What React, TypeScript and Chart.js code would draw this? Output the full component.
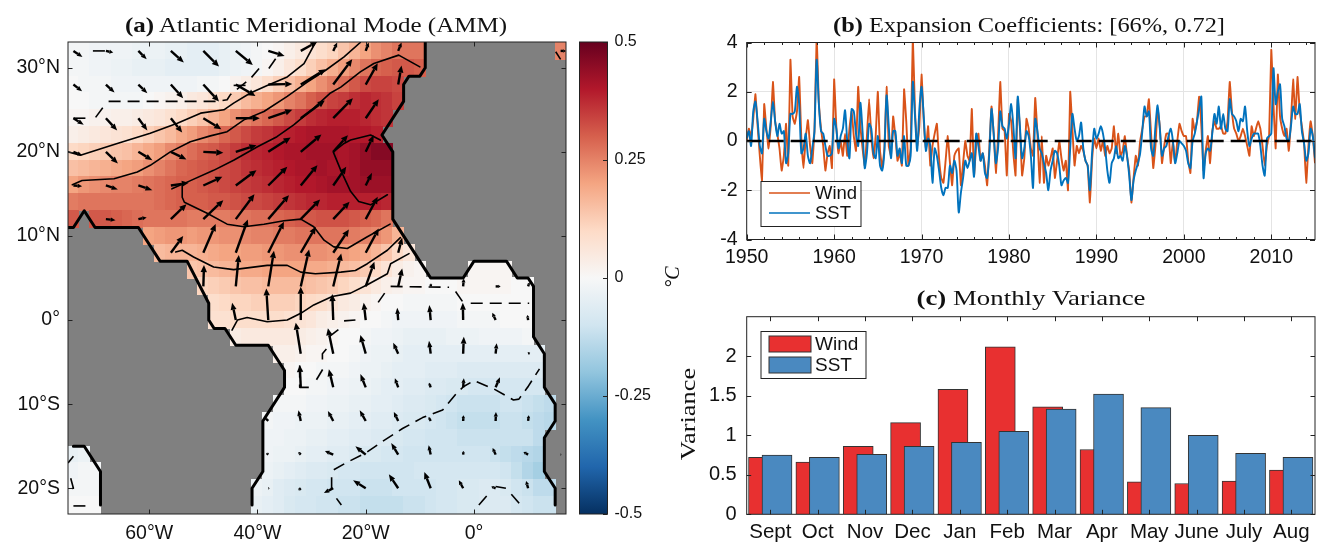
import React, { useEffect, useRef } from "react";
import { Chart, registerables } from "chart.js";

Chart.register(...registerables);

const W = 1319;
const H = 544;
const SANS = '"Liberation Sans", Arial, sans-serif';
const SERIF = '"Liberation Serif", serif';

/* ---------- panel (a): SST anomaly by latitude row: [lat, first lon, values every 2 degrees] ---------- */
const sst32 = [-.01,-.01,-.02,-.02,-.02,-.02,-.03,-.03,-.03,-.04,-.04,-.05,-.05,-.05,-.04,-.03,-.02,-.01,0,.01,.03,.05,.07,.09,.11,.14,.17,.2,.23,.25,.27,.27,.27];
const sst32e = [.25];
const sst30 = [-.01,-.01,-.02,-.02,-.03,-.03,-.04,-.04,-.04,-.05,-.05,-.05,-.05,-.05,-.04,-.03,-.02,-.01,.01,.03,.06,.09,.12,.15,.18,.21,.24,.27,.29,.3,.31,.31,.3];
const sst28 = [0,-.01,-.01,-.01,-.02,-.02,-.02,-.02,-.02,-.02,-.02,-.02,-.01,-.01,0,.02,.04,.06,.09,.12,.15,.18,.2,.23,.26,.28,.31,.33,.34,.34,.33];
const sst26 = [0,0,-.01,-.01,-.01,-.01,-.01,0,.01,.02,.03,.05,.06,.08,.1,.13,.16,.18,.2,.22,.25,.27,.3,.32,.34,.35,.37,.38,.37,.36,.34];
const sst24 = [.01,.01,.02,.02,.03,.03,.04,.05,.06,.08,.1,.12,.14,.17,.2,.23,.25,.27,.29,.31,.33,.35,.37,.38,.39,.39,.39,.38,.37,.36];
const sst22 = [.03,.04,.05,.06,.07,.08,.1,.12,.14,.16,.19,.21,.24,.26,.29,.31,.33,.35,.36,.38,.39,.4,.41,.41,.41,.41,.4,.4,.39];
const sst20 = [.1,.11,.12,.13,.14,.15,.17,.19,.21,.24,.26,.28,.3,.31,.33,.35,.37,.38,.39,.4,.41,.41,.42,.42,.42,.41,.42,.44,.46,.46];
const sst18 = [.15,.16,.17,.18,.19,.2,.21,.23,.25,.27,.29,.3,.31,.32,.33,.34,.36,.37,.38,.39,.4,.41,.41,.42,.41,.41,.42,.44,.44,.44];
const sst16 = [.2,.22,.23,.24,.25,.25,.26,.27,.28,.29,.3,.3,.31,.32,.33,.34,.35,.36,.37,.38,.39,.4,.4,.41,.42,.42,.42,.43,.43,.43];
const sst14 = [.26,.27,.27,.27,.27,.27,.27,.27,.28,.29,.3,.3,.3,.31,.31,.32,.33,.33,.34,.35,.36,.37,.38,.38,.39,.39,.39,.39,.39,.38];
const sst12 = [.31,null,.31,.31,.3,.29,.28,.27,.27,.27,.27,.26,.26,.26,.26,.27,.27,.28,.28,.29,.3,.31,.31,.32,.32,.32,.31,.3,.29,.27];
const sst10 = [.2,.21,.22,.22,.21,.22,.22,.23,.23,.24,.25,.25,.26,.26,.27,.27,.27,.27,.27,.26,.25,.24,.22,.17];
const sst8 = [.16,.17,.17,.17,.18,.19,.2,.2,.21,.21,.22,.22,.23,.23,.23,.23,.22,.21,.2,.19,.17,.14,.1,.06];
const sst6 = [.14,.15,.16,.17,.18,.19,.19,.2,.2,.2,.2,.19,.19,.18,.16,.15,.13,.1,.07,.04,.02,.01];
const sst6e = [.01,.01,.01,.01];
const sst4 = [.11,.12,.13,.14,.15,.15,.16,.16,.16,.16,.15,.14,.13,.11,.09,.07,.05,.03,.02,.01,.01,0,0,0,.01,.01,.01,.01,.01,0,0];
const sst2 = [.09,.1,.11,.11,.12,.12,.12,.12,.11,.1,.09,.07,.05,.04,.02,.01,0,0,-.01,-.01,-.01,-.01,-.01,0,0,0,0,0,0,0];
const sst0 = [.08,.08,.09,.09,.09,.09,.09,.08,.07,.06,.04,.03,.02,.01,0,0,-.01,-.02,-.02,-.02,-.02,-.02,-.02,-.01,-.01,-.01,-.01,0,0,0];
const sstS2 = [.04,.05,.05,.05,.05,.05,.04,.03,.02,.01,0,0,-.01,-.02,-.02,-.03,-.04,-.04,-.04,-.04,-.03,-.03,-.03,-.02,-.02,-.02,-.02,-.01];
const sstS4 = [.03,.03,.02,.01,.01,0,0,-.01,-.02,-.03,-.03,-.04,-.05,-.05,-.05,-.05,-.05,-.05,-.05,-.05,-.05,-.05,-.05,-.05,-.05];
const sstS6 = [.01,0,0,-.01,-.01,-.01,-.02,-.03,-.03,-.04,-.05,-.05,-.05,-.06,-.06,-.06,-.07,-.07,-.07,-.07,-.07,-.07,-.07,-.07];
const sstS8 = [0,0,-.01,-.01,-.02,-.02,-.03,-.03,-.04,-.05,-.05,-.06,-.06,-.07,-.07,-.08,-.08,-.09,-.09,-.09,-.09,-.09,-.09,-.09];
const sstS10 = [-.01,-.01,-.01,-.02,-.02,-.03,-.03,-.04,-.04,-.05,-.05,-.06,-.07,-.07,-.08,-.09,-.1,-.11,-.11,-.11,-.11,-.1,-.1,-.11,-.12,-.13];
const sstS12 = [-.01,-.02,-.02,-.03,-.03,-.03,-.04,-.04,-.05,-.05,-.06,-.06,-.07,-.08,-.08,-.09,-.1,-.11,-.12,-.12,-.12,-.12,-.11,-.11,-.12,-.13,-.14];
const sstS14 = [-.02,-.02,-.03,-.03,-.04,-.04,-.05,-.05,-.06,-.06,-.07,-.07,-.08,-.09,-.09,-.1,-.1,-.1,-.11,-.11,-.11,-.11,-.11,-.11,-.11,-.13];
const sstS16w = [-.04,-.03];
const sstS16 = [-.02,-.03,-.03,-.04,-.05,-.05,-.06,-.06,-.07,-.08,-.08,-.09,-.09,-.1,-.1,-.1,-.1,-.1,-.1,-.1,-.1,-.11,-.12,-.13,-.14,-.15];
const sstS18w = [-.02,-.01,-.01];
const sstS18 = [-.03,-.04,-.05,-.06,-.07,-.07,-.08,-.09,-.09,-.1,-.1,-.1,-.1,-.1,-.09,-.09,-.09,-.09,-.09,-.09,-.09,-.09,-.1,-.12,-.15,-.17];
const sstS20w = [-.01,-.01,-.01];
const sstS20 = [-.03,-.04,-.06,-.07,-.08,-.09,-.09,-.1,-.1,-.1,-.11,-.11,-.11,-.1,-.1,-.1,-.1,-.09,-.09,-.08,-.08,-.07,-.07,-.08,-.1,-.11,-.13,-.13];
const sstS22w = [0,0,0];
const sstS22 = [-.04,-.05,-.06,-.08,-.09,-.09,-.1,-.1,-.11,-.11,-.12,-.12,-.12,-.12,-.11,-.11,-.1,-.09,-.09,-.08,-.08,-.07,-.07,-.07,-.09,-.1,-.11,-.11];

const sstRows: [number, number, (number | null)[]][] = [
  [32, -74, sst32], [32, 16, sst32e], [30, -74, sst30], [28, -74, sst28], [26, -74, sst26], [24, -74, sst24],
  [22, -74, sst22], [20, -74, sst20], [18, -74, sst18], [16, -74, sst16], [14, -74, sst14], [12, -74, sst12],
  [10, -60, sst10], [8, -58, sst8], [6, -52, sst6], [6, 0, sst6e], [4, -50, sst4], [2, -48, sst2], [0, -48, sst0],
  [-2, -44, sstS2], [-4, -36, sstS4], [-6, -34, sstS6], [-8, -34, sstS8], [-10, -36, sstS10], [-12, -38, sstS12],
  [-14, -38, sstS14], [-16, -74, sstS16w], [-16, -38, sstS16], [-18, -74, sstS18w], [-18, -38, sstS18],
  [-20, -74, sstS20w], [-20, -40, sstS20], [-22, -74, sstS22w], [-22, -40, sstS22],
];

/* wind vectors: [lon, u, v] by latitude row */
const wind32 = [[-74,27,-18],[-68,22,-5],[-62,25,-25],[-56,39,-35],[-50,47,-47],[-44,51,-42],[-38,49,-15],[-32,50,28],[-26,12,25],[-20,9,25],[-14,10,25],[16,16,0]];
const wind28 = [[-74,26,-20],[-68,26,-24],[-62,27,-26],[-56,37,-41],[-50,47,-51],[-44,59,-34],[-38,72,2],[-32,75,46],[-26,57,76],[-20,36,64],[-14,10,57]];
const wind24 = [[-74,31,-20],[-68,34,-37],[-62,27,-37],[-56,34,-43],[-50,54,-33],[-44,72,0],[-38,72,25],[-32,72,53],[-26,59,60],[-20,39,57]];
const wind20 = [[-74,26,-10],[-68,36,-35],[-62,42,-25],[-56,47,-23],[-50,60,-3],[-44,62,20],[-38,67,43],[-32,62,52],[-26,44,50],[-20,24,50]];
const wind16 = [[-74,26,-2],[-68,36,-12],[-62,42,-14],[-56,54,8],[-50,57,26],[-44,62,46],[-38,57,56],[-32,50,61],[-26,39,56],[-20,19,38]];
const wind12 = [[-68,29,-3],[-62,25,5],[-56,47,45],[-50,60,57],[-44,56,75],[-38,62,72],[-32,58,59],[-26,49,52],[-20,36,67]];
const wind8 = [[-56,37,50],[-50,37,86],[-44,36,100],[-38,47,93],[-32,45,78],[-26,47,70],[-20,39,73],[-14,12,46]];
const wind4 = [[-50,2,64],[-44,9,94],[-38,17,107],[-32,25,111],[-26,24,99],[-20,26,74],[-14,12,54],[-8,1,9],[-2,2,24],[4,15,0],[10,4,12]];
const wind0 = [[-44,-11,52],[-38,-6,95],[-32,0,100],[-26,-3,78],[-20,-6,52],[-14,-3,37],[-8,-4,45],[-2,-1,52],[4,-10,22],[10,-2,15]];
const windS4 = [[-32,-15,93],[-26,-16,76],[-20,-16,56],[-14,-15,33],[-8,-5,39],[-2,2,51],[4,3,31],[10,6,3]];
const windS8 = [[-32,-3,67],[-26,-13,54],[-20,-16,40],[-14,-10,27],[-8,-5,14],[-2,2,27],[4,13,30],[10,-2,2]];
const windS12 = [[-38,-13,12],[-32,-7,32],[-26,-16,30],[-20,-18,32],[-14,-13,27],[-8,-6,12],[-2,1,17],[4,1,27],[10,2,17]];
const windS16 = [[-38,-6,5],[-32,-7,8],[-26,-25,11],[-20,-31,25],[-14,-21,35],[-8,-6,28],[-2,1,11],[4,-9,20],[10,-14,8],[16,2,0]];
const windS20 = [[-38,3,0],[-32,-7,-6],[-26,-28,-14],[-20,-38,24],[-14,-28,42],[-8,-19,49],[-2,-13,24],[4,-13,5],[10,-6,22]];
const windRows: [number, number[][]][] = [
  [32, wind32], [28, wind28], [24, wind24], [20, wind20], [16, wind16], [12, wind12], [8, wind8], [4, wind4],
  [0, wind0], [-4, windS4], [-8, windS8], [-12, windS12], [-16, windS16], [-20, windS20],
];

/* coastlines as [lon, lat] */
const coastAmericaAfricaWest = [[-75,11],[-74,11],[-72,13],[-70,11],[-62,11],[-58,7],[-53,7],[-49,2],[-49,0],[-48,-1],[-46,-1],[-44,-3],[-38,-3],[-35,-6],[-35,-8],[-39,-12],[-39,-18],[-41,-20],[-41,-22]];
const coastAfrica = [[-9,33],[-9,30],[-10,29],[-12,29],[-13,28],[-13,26],[-17,22],[-15,20],[-15,12],[-9,6],[-8,5],[-2,5],[0,7],[6,7],[8,5],[10,5],[11,4],[11,-2],[13,-4],[13,-8],[15,-10],[15,-12],[13,-14],[13,-18],[15,-20],[15,-22]];
const coastPacific = [[-74,-15],[-72,-15],[-69,-18],[-69,-22]];

/* contours as [lon, lat] */
const solid1 = [[-75,20],[-72.7,19.6],[-65.9,21],[-59.8,22.2],[-54.8,23.4],[-50.5,24.6],[-46.2,25],[-44.4,25.8],[-41.3,27],[-38.2,27.9],[-34.5,28.9],[-31.4,30.5],[-29.3,33]];
const solid2 = [[-74.2,16.1],[-72.4,16.6],[-66.5,16.8],[-62.2,17.6],[-59.8,18.4],[-56.1,20],[-52.4,21.2],[-48.7,21.9],[-45.6,22.4],[-42.5,23.8],[-38.8,24.8],[-34.5,26.6],[-30.8,28.3],[-27.4,29.7],[-24,31.3],[-21,33]];
const solid3 = [[-55.8,15.6],[-53,16.4],[-48.1,17.8],[-44.4,19],[-40,20.6],[-36.4,21.8],[-33.3,23.2],[-29.6,25.2],[-26.5,27],[-24.6,27.7],[-21,29.5],[-18.5,30.5],[-13.9,31.5],[-10,30.1]];
const solid3b = [[-53.9,16.1],[-53.9,14.6],[-53.5,14],[-49.3,12.7],[-45.6,11.4],[-42.5,11.1],[-38.8,11.4],[-35.1,11.8],[-32,12],[-29.6,11.1],[-27.7,9.5],[-25.9,8.7],[-23.4,8.5],[-19.7,9.9],[-15.5,11.4]];
const solid4 = [[-17.3,21.4],[-19.1,22],[-22.8,21.4],[-24,21],[-26,20],[-24.6,17.8],[-22.8,15.3],[-21.3,14.1],[-19.1,13.7],[-16,14.9]];
const solid5 = [[-55.1,8.1],[-53.9,8.3],[-51.8,7.5],[-48.1,6.3],[-44.4,6],[-38.2,6.5],[-34.5,6.5],[-32,5.7],[-29.3,5.5],[-24.6,5.7],[-21.9,5.9],[-19.7,6.7],[-16,8.3],[-13.6,9.8]];
const solid6 = [[-44.7,-1.2],[-43.7,0],[-41.9,0.3],[-38.2,-0.2],[-34.5,0],[-32,0.8],[-29.6,1.8],[-26.2,2.8],[-22.8,3.2],[-19.7,4.2],[-16,5.5],[-15.4,6.7],[-12,7.9]];
const solidLines = [solid1, solid2, solid3, solid3b, solid4, solid5, solid6];

const dash1 = [[-69.9,24.1],[-68.4,25.4]];
const dash2 = [[-67.5,26],[-47.4,26],[-45.6,26.2],[-45,26.8],[-41.3,28.7],[-39.7,29.9]];
const dash3 = [[-37.9,29.9],[-36.4,31.3]];
const dash4 = [[-70.4,32],[-68,32]];
const dash5 = [[-44.4,27.9],[-42.2,27.9]];
const dash6 = [[-74,24],[-71.5,24]];
const dash7 = [[-15.4,4],[-4.6,3.9]];
const dash8 = [[-3.4,3.4],[-1.9,2]];
const dash9 = [[-0.6,2],[10.2,2]];
const dash10 = [[-24,-0.1],[-21.9,0]];
const dash11 = [[-17.7,2.1],[-16.5,3.2]];
const dash12 = [[-26.8,-2],[-25,-1.1]];
const dash13 = [[-28,-4.7],[-28,-4],[-27.2,-3.4]];
const dash14 = [[-29.1,-7.1],[-27.8,-5.7]];
const dash15 = [[-32.2,-5.4],[-32.2,-8],[-29.9,-8]];
const dash16 = [[-25.9,-17.8],[-23.7,-17],[-20,-15.8],[-16.6,-14.3],[-13.2,-12.9],[-9.5,-11.6],[-5.8,-10.7],[-3.2,-8.7],[-1.9,-7.9],[0,-7.2],[3.7,-8.2],[7.3,-9.5],[8.3,-9.4],[9.9,-8],[12.1,-5.8]];
const dash17 = [[-26.3,-18.7],[-26.3,-20],[-27.4,-20.4]];
const dash18 = [[-25.4,-21.2],[-24.5,-22]];
const dash19 = [[0.9,-22],[2.5,-20.8]];
const dash20 = [[6.9,-20.7],[8.5,-21.9]];
const dash21 = [[4,-19.8],[5.9,-20]];
const dash22 = [[-75,-17],[-74,-16.2]];
const dash23 = [[-74.5,-18.8],[-74,-20],[-75,-20.1]];
const dash24 = [[-74,-22.1],[-71.5,-22.1]];
const dash25 = [[15.1,31.9],[16,31]];
const dashLines = [dash1,dash2,dash3,dash4,dash5,dash6,dash7,dash8,dash9,dash10,dash11,dash12,dash13,dash14,dash15,dash16,dash17,dash18,dash19,dash20,dash21,dash22,dash23,dash24,dash25];

const lonTicks = [-60, -40, -20, 0];
const latTicks = [30, 20, 10, 0, -10, -20];
const colorTicks = [-0.5, -0.25, 0, 0.25, 0.5];
const colorStops = ["#053061","#2166ac","#4393c3","#92c5de","#d1e5f0","#f7f7f7","#fddbc7","#f4a582","#d6604d","#b2182b","#67001f"];

/* ---------- panel (b): quarterly expansion coefficients by decade ---------- */
const wind1950s = [0,.5,.2,.9, 1.9,.6,-.6,-1.6, 1.5,.5,-.3,.6, 2.4,.8,.3,-.3, -1.2,-.6,.7,-1, 3.3,1,.7,1.2, 2.6,.1,-1.1,.1, .85,-.2,-.9,.4, 4.2,1.6,.5,-.2, -1.2,-.5,-.2,-1.1];
const wind1960s = [2.5,.6,-.5,0, -.6,.3,-.6,.5, 1.2,.2,-.4,2.2, .6,-.3,-1,.2, 1.7,.2,-.7,.2, 2,-.4,-1.1,-.3, 2.2,-.2,-.6,1, .2,-.8,-.5,-1, 2.1,.8,-1,-.3, 4.2,1.2,-.2,.6];
const wind1970s = [2.7,.8,-.3,.6, -1,-.2,.3,.7, -.7,-1.5,-1.7,-.8, .2,-.9,-1.8,-.6, -.4,-.3,-1.8,-.9, 0,-.6,-.8,1.3, -1.4,-.2,.3,-.8, -.5,-1,-1.8,-.3, 1.4,.3,-1.3,.2, 2.4,.5,.4,-1.4];
const wind1980s = [1.1,.8,-.5,-1.4, 1.7,.5,-1.4,-.7, .9,.5,-.3,-.6, 1.75,.3,-1.7,.2, -1.7,-.6,-1,-.7, -.3,-1.5,-.8,0, -.7,-1.2,-.8,-2, 2,.5,-1,-.2, -.5,-.2,-.4,-.8, -1,-2.5,-.8,.1];
const wind1990s = [-.3,.1,-.4,0, -.6,-.2,-.5,-.3, .6,-.5,.3,-.6, -.4,.2,-.6,-1.2, -2.5,-1.5,-.6,-1, 0,.5,1,1, 1.7,.3,-1.1,-.2, 1.3,.6,-.9,-.2, .3,.3,-.9,0, -.9,0,.7,.4];
const wind2000s = [.2,.2,-.8,-1.3, .9,.4,.8,1.8, .6,-1.2,-.4,.2, -.9,.4,.8,.5, .5,.6,.3,.3, .8,2.4,1.2,.5, .3,0,.2,.5, .2,-.2,-.6,.6, .2,.5,.8,.5, -.2,-1,-.2,.2];
const wind2010s = [3.7,1.5,-.3,2.7, 1,.5,.2,.5, -.4,.8,2.5,.9, 2.6,1.2,.6,-.1, -1.7,-.2,.8,.2, -.9];
const sst1950s = [.1,.4,-.2,1.2, 1.6,.8,-.2,-.5, .9,.4,.1,.8, 1.6,.8,.2,.7, .3,.4,-.9,-.5, 1.1,1.1,1.2,2.2, 1.5,-.5,-.3,.3, -.6,-.9,-.3,.4, 3.3,1.5,.4,.3, -.2,-.6,-.6,-.5];
const sst1960s = [.9,.5,-.3,.2, .5,1.25,0,-.7, 1.3,1.2,.3,-.2, 1.55,.4,-1.1,-.5, .7,.5,-.5,-.7, .2,-1,-1.2,-.4, 1.85,.6,-.7,.4, .4,-.6,-.3,-.9, .2,-1,-1,-.6, 2.4,1,-.4,1.3];
const sst1970s = [2.2,1,-.4,.1, -.2,-1.7,-.3,-.6, -1.2,-1.9,-2.2,-1.9, -1.9,-1,-1.3,-.8, -1.2,-2.9,-2.1,-1.5, -.8,-1.1,-.8,-.5, -1.45,.3,-.2,-.8, -.5,-1.3,-1.5,-.5, 1.3,.3,-.9,-.3, 1.2,.6,.5,.1];
const sst1980s = [.7,1.5,.6,-.7, 1.8,.6,-.7,-.3, .4,.2,-.6,-1.9, .9,.4,-.3,-.5, -.9,-1.3,-2,-1.2, -.8,-.4,-.5,-1, -1.8,-1.6,-1.5,-1.7, -.3,1.1,.5,0, .2,.75,-.3,-.8, -1,-2,-.5,.5];
const sst1990s = [.1,.3,.6,.3, -.3,-1.2,-1.7,-.9, -.7,-.2,-.7,-.6, -.8,-.2,-.6,-1.4, -2.4,-1.6,-1.2,-.9, -.5,.4,1.4,1, 1.2,-.3,-.6,.6, 1.45,.5,-.6,-.3, -.2,.2,.5,0, -.9,-.5,0,-.1];
const sst2000s = [-.2,-.4,-.9,-1.1, 0,.3,.8,1.3, 1.8,-1.5,-.5,-.3, -.4,.3,1.1,.7, 1.4,.5,1.1,.5, .4,1.7,1.1,1, .8,.4,.9,.8, 1.4,.4,-.2,.1, .3,.3,.3,-.2, -1,-1.4,.1,.2];
const sst2010s = [.3,2.95,1.5,2, 2.3,.9,.6,.1, 0,.6,1.4,1.1, 1.1,1.5,.4,-.1, -.8,-.5,.5,.2, -.7];
const windCoeff = [...wind1950s, ...wind1960s, ...wind1970s, ...wind1980s, ...wind1990s, ...wind2000s, ...wind2010s];
const sstCoeff = [...sst1950s, ...sst1960s, ...sst1970s, ...sst1980s, ...sst1990s, ...sst2000s, ...sst2010s];
const firstYear = 1950;
const lastYear = 2015;
const yearTicks = [1950,1952,1954,1956,1958,1960,1962,1964,1966,1968,1970,1972,1974,1976,1978,1980,1982,1984,1986,1988,1990,1992,1994,1996,1998,2000,2002,2004,2006,2008,2010,2012,2014];
const coeffTicks = [-4, -2, 0, 2, 4];

/* ---------- panel (c) ---------- */
const months = ["Sept","Oct","Nov","Dec","Jan","Feb","Mar","Apr","May","June","July","Aug"];
const windVariance = [0.72,0.66,0.86,1.16,1.58,2.12,1.36,0.82,0.41,0.39,0.42,0.56];
const sstVariance = [0.75,0.72,0.76,0.86,0.91,1.05,1.33,1.52,1.35,1.0,0.77,0.72];
const varianceTicks = [0, 0.5, 1, 1.5, 2];

/* ---------- helpers ---------- */
const FRAME = "#222222";
const AXIS_W = 60;
const AXIS_H = 28;

function hexRgb(h: string) {
  return [1, 3, 5].map((i) => parseInt(h.slice(i, i + 2), 16));
}
function colormap(v: number) {
  const t = Math.max(0, Math.min(1, v + 0.5)) * (colorStops.length - 1);
  const i = Math.min(colorStops.length - 2, Math.floor(t));
  const a = hexRgb(colorStops[i]);
  const b = hexRgb(colorStops[i + 1]);
  const f = t - i;
  return `rgb(${a.map((c, k) => Math.round(c + (b[k] - c) * f)).join(",")})`;
}

const swatchCache = new Map<string, HTMLCanvasElement>();
function cellSwatch(color: string) {
  let c = swatchCache.get(color);
  if (!c) {
    c = document.createElement("canvas");
    c.width = 12;
    c.height = 18;
    const g = c.getContext("2d")!;
    g.fillStyle = color;
    g.fillRect(0, 0, 12, 18);
    swatchCache.set(color, c);
  }
  return c;
}

const toXY = (pts: number[][]) => pts.map(([x, y]) => ({ x, y }));

function fixedAxis(extra: any) {
  return {
    border: { display: false },
    afterFit(s: any) {
      if (s.isHorizontal()) s.height = AXIS_H;
      else s.width = AXIS_W;
      s.paddingLeft = s.paddingRight = s.paddingTop = s.paddingBottom = 0;
    },
    ...extra,
  };
}

/* padding that places the plot area exactly, given which axes take room */
function pad(l: number, t: number, r: number, b: number, leftAxis = true, bottomAxis = true, rightAxis = false) {
  return {
    left: l - (leftAxis ? AXIS_W : 0),
    top: t,
    right: W - r - (rightAxis ? AXIS_W : 0),
    bottom: H - b - (bottomAxis ? AXIS_H : 0),
  };
}

const framePlugin = {
  id: "frame",
  afterDraw(chart: any, _a: any, o: any) {
    const { ctx, chartArea: A, scales } = chart;
    ctx.save();
    ctx.strokeStyle = FRAME;
    ctx.lineWidth = 1;
    ctx.strokeRect(A.left, A.top, A.right - A.left, A.bottom - A.top);
    ctx.beginPath();
    const sides = o.sides || "tblr";
    (scales.x?.ticks || []).forEach((t: any) => {
      if (!o.xTicks) return;
      const x = Math.round(scales.x.getPixelForValue(t.value)) + 0.5;
      const len = o.minor && !o.minor(t.value) ? 2.5 : o.len;
      ctx.moveTo(x, A.bottom);
      ctx.lineTo(x, A.bottom - len);
      ctx.moveTo(x, A.top);
      ctx.lineTo(x, A.top + len);
    });
    (scales.y?.ticks || []).forEach((t: any) => {
      const y = Math.round(scales.y.getPixelForValue(t.value)) + 0.5;
      if (sides.includes("l")) {
        ctx.moveTo(A.left, y);
        ctx.lineTo(A.left + o.len, y);
      }
      ctx.moveTo(A.right, y);
      ctx.lineTo(A.right - o.len, y);
    });
    ctx.stroke();
    ctx.restore();
  },
};

const landPlugin = {
  id: "land",
  beforeDatasetsDraw(chart: any) {
    const { ctx, chartArea: A } = chart;
    ctx.save();
    ctx.fillStyle = "#808080";
    ctx.fillRect(A.left, A.top, A.right - A.left, A.bottom - A.top);
    ctx.restore();
  },
};

const quiverPlugin = {
  id: "quiver",
  afterDatasetsDraw(chart: any) {
    const { ctx, chartArea: A } = chart;
    ctx.save();
    ctx.beginPath();
    ctx.rect(A.left, A.top, A.right - A.left, A.bottom - A.top);
    ctx.clip();
    ctx.strokeStyle = "#000";
    ctx.fillStyle = "#000";
    ctx.lineCap = "butt";
    chart.data.datasets.forEach((ds: any, i: number) => {
      if (!ds.isQuiver) return;
      chart.getDatasetMeta(i).data.forEach((p: any, k: number) => {
        const { u, v } = ds.data[k];
        const dx = u / 3;
        const dy = -v / 3;
        const len = Math.hypot(dx, dy);
        if (len < 0.3) return;
        const ux = dx / len;
        const uy = dy / len;
        const head = Math.min(7, len * 0.5);
        const hw = Math.min(3.2, 1.2 + len * 0.1);
        const tipX = p.x + dx;
        const tipY = p.y + dy;
        const bx = tipX - ux * head;
        const by = tipY - uy * head;
        ctx.lineWidth = 2.4;
        ctx.beginPath();
        ctx.moveTo(p.x, p.y);
        ctx.lineTo(bx, by);
        ctx.stroke();
        ctx.beginPath();
        ctx.moveTo(tipX, tipY);
        ctx.lineTo(bx - uy * hw, by + ux * hw);
        ctx.lineTo(bx + uy * hw, by - ux * hw);
        ctx.closePath();
        ctx.fill();
      });
    });
    ctx.restore();
  },
};

const boxLegendPlugin = {
  id: "boxLegend",
  afterDraw(chart: any, _a: any, o: any) {
    const { ctx } = chart;
    ctx.save();
    ctx.fillStyle = "#fff";
    ctx.strokeStyle = FRAME;
    ctx.lineWidth = 1;
    ctx.fillRect(o.x, o.y, o.w, o.h);
    ctx.strokeRect(o.x + 0.5, o.y + 0.5, o.w, o.h);
    ctx.font = o.font;
    ctx.textBaseline = "middle";
    ctx.textAlign = "left";
    o.items.forEach((it: any) => {
      if (it.kind === "line") {
        ctx.strokeStyle = it.color;
        ctx.lineWidth = 1.6;
        ctx.beginPath();
        ctx.moveTo(o.sx, it.cy);
        ctx.lineTo(o.sx + o.sw, it.cy);
        ctx.stroke();
      } else {
        ctx.fillStyle = it.color;
        ctx.strokeStyle = "#333";
        ctx.lineWidth = 1;
        ctx.fillRect(o.sx, it.cy - o.sh / 2, o.sw, o.sh);
        ctx.strokeRect(o.sx, it.cy - o.sh / 2, o.sw, o.sh);
      }
      ctx.fillStyle = "#111";
      ctx.fillText(it.label, o.tx, it.cy + 1);
    });
    ctx.restore();
  },
};

/* ---------- chart configs ---------- */
function mapConfig() {
  const cells: any[] = [];
  const styles: HTMLCanvasElement[] = [];
  sstRows.forEach(([lat, lon0, vals]) => {
    vals.forEach((v, i) => {
      if (v === null) return;
      cells.push({ x: lon0 + 2 * i, y: lat });
      styles.push(cellSwatch(colormap(v)));
    });
  });
  const arrows: any[] = [];
  windRows.forEach(([lat, row]) => row.forEach(([lon, u, v]) => arrows.push({ x: lon, y: lat, u, v })));
  const line = (pts: number[][], color: string, width: number, order: number, dash?: number[]) => ({
    data: toXY(pts),
    showLine: true,
    borderColor: color,
    borderWidth: width,
    borderDash: dash || [],
    borderCapStyle: dash ? "butt" : "round",
    borderJoinStyle: "round",
    pointRadius: 0,
    order,
  });
  return {
    type: "scatter",
    data: {
      datasets: [
        line(coastAmericaAfricaWest, "#000", 3, 1),
        line(coastAfrica, "#000", 3, 1),
        line(coastPacific, "#000", 3, 1),
        ...solidLines.map((p) => line(p, "#000", 1.6, 2)),
        ...dashLines.map((p) => line(p, "#000", 1.6, 2, [12, 7])),
        { data: arrows, isQuiver: true, pointRadius: 0, order: 3 },
        { data: cells, pointStyle: styles, pointRadius: 1, order: 100 },
      ],
    },
    options: {
      animation: false,
      responsive: false,
      events: [],
      layout: { padding: pad(68, 42, 566, 514) },
      plugins: { legend: { display: false }, tooltip: { enabled: false }, frame: { len: 4.5, xTicks: true } },
      scales: {
        x: fixedAxis({
          type: "linear", min: -75, max: 17, grid: { display: false, drawTicks: false },
          afterBuildTicks: (s: any) => { s.ticks = lonTicks.map((value) => ({ value })); },
          ticks: { autoSkip: false, maxRotation: 0, padding: 8, color: "#111", font: { family: SANS, size: 19.5 },
            callback: (v: number) => (v === 0 ? "0°" : `${-v}°W`) },
        }),
        y: fixedAxis({
          type: "linear", min: -23.06, max: 33.06, grid: { display: false, drawTicks: false },
          afterBuildTicks: (s: any) => { s.ticks = latTicks.map((value) => ({ value })); },
          ticks: { autoSkip: false, padding: 8, color: "#111", font: { family: SANS, size: 19.5 },
            callback: (v: number) => (v === 0 ? "0°" : v > 0 ? `${v}°N` : `${-v}°S`) },
        }),
      },
    },
    plugins: [landPlugin, quiverPlugin, framePlugin],
  };
}

function colorbarConfig() {
  return {
    type: "bar",
    data: {
      labels: ["SST"],
      datasets: [{
        data: [[-0.5, 0.5]],
        barPercentage: 1,
        categoryPercentage: 1,
        borderWidth: 0,
        backgroundColor: (c: any) => {
          const A = c.chart.chartArea;
          if (!A) return "#fff";
          const g = c.chart.ctx.createLinearGradient(0, A.bottom, 0, A.top);
          colorStops.forEach((s, i) => g.addColorStop(i / (colorStops.length - 1), s));
          return g;
        },
      }],
    },
    options: {
      animation: false,
      responsive: false,
      events: [],
      layout: { padding: pad(579.5, 42, 607.5, 514, false, false, true) },
      plugins: { legend: { display: false }, tooltip: { enabled: false }, frame: { len: 4.5, sides: "r" } },
      scales: {
        x: { type: "category", display: false, offset: true, grid: { display: false } },
        y: fixedAxis({
          type: "linear", position: "right", min: -0.5, max: 0.5, grid: { display: false, drawTicks: false },
          afterBuildTicks: (s: any) => { s.ticks = colorTicks.map((value) => ({ value })); },
          ticks: { autoSkip: false, padding: 7, color: "#111", font: { family: SANS, size: 16 }, callback: (v: number) => String(v) },
        }),
      },
    },
    plugins: [framePlugin],
  };
}

function coeffConfig() {
  const toSeries = (vals: number[]) => vals.map((y, i) => ({ x: firstYear + i / 4, y }));
  return {
    type: "scatter",
    data: {
      datasets: [
        { data: [{ x: firstYear, y: 0 }, { x: lastYear, y: 0 }], showLine: true, borderColor: "#000", borderWidth: 2.6, borderDash: [15, 7], pointRadius: 0, order: 1 },
        { data: toSeries(sstCoeff), showLine: true, borderColor: "#0072BD", borderWidth: 1.9, tension: 0.25, pointRadius: 0, order: 2 },
        { data: toSeries(windCoeff), showLine: true, borderColor: "#D95319", borderWidth: 1.9, tension: 0.1, pointRadius: 0, order: 3 },
      ],
    },
    options: {
      animation: false,
      responsive: false,
      events: [],
      layout: { padding: pad(746.7, 42.5, 1315, 239.5) },
      plugins: {
        legend: { display: false }, tooltip: { enabled: false },
        frame: { len: 5, xTicks: true, minor: (v: number) => v % 10 === 0 },
        boxLegend: {
          x: 760.5, y: 181, w: 100, h: 45, sx: 769, sw: 41, sh: 0, tx: 815, font: `18.5px ${SANS}`,
          items: [{ kind: "line", color: "#D95319", label: "Wind", cy: 193 }, { kind: "line", color: "#0072BD", label: "SST", cy: 213 }],
        },
      },
      scales: {
        x: fixedAxis({
          type: "linear", min: firstYear, max: lastYear,
          grid: { drawTicks: false, lineWidth: 1, color: (c: any) => (c.tick && c.tick.value % 10 === 0 ? "#e4e4e4" : "rgba(0,0,0,0)") },
          afterBuildTicks: (s: any) => { s.ticks = yearTicks.map((value) => ({ value })); },
          ticks: { autoSkip: false, maxRotation: 0, padding: 6, color: "#111", font: { family: SANS, size: 19.5 },
            callback: (v: number) => (v % 10 === 0 ? String(v) : "") },
        }),
        y: fixedAxis({
          type: "linear", min: -4, max: 4,
          grid: { drawTicks: false, lineWidth: 1, color: "#e4e4e4" },
          afterBuildTicks: (s: any) => { s.ticks = coeffTicks.map((value) => ({ value })); },
          ticks: { autoSkip: false, padding: 9, color: "#111", font: { family: SANS, size: 19.5 }, callback: (v: number) => String(v) },
        }),
      },
    },
    plugins: [framePlugin, boxLegendPlugin],
  };
}

function varianceConfig() {
  const monthTicks = months.map((_, i) => i);
  const bars = (vals: number[], shift: number, color: string, order: number) => ({
    data: vals.map((y, i) => ({ x: i + shift, y })),
    backgroundColor: color,
    borderColor: "#333",
    borderWidth: 1,
    barThickness: 30,
    grouped: false,
    order,
  });
  return {
    type: "bar",
    data: { datasets: [bars(sstVariance, 0.14, "#4a89c0", 1), bars(windVariance, -0.145, "#e83030", 2)] },
    options: {
      animation: false,
      responsive: false,
      events: [],
      layout: { padding: pad(746.7, 316.7, 1315, 514.3) },
      plugins: {
        legend: { display: false }, tooltip: { enabled: false },
        frame: { len: 4.5, xTicks: true },
        boxLegend: {
          x: 760.5, y: 331, w: 105, h: 47, sx: 769, sw: 42, sh: 16, tx: 815, font: `19px ${SANS}`,
          items: [{ kind: "box", color: "#e83030", label: "Wind", cy: 344 }, { kind: "box", color: "#4a89c0", label: "SST", cy: 365 }],
        },
      },
      scales: {
        x: fixedAxis({
          type: "linear", offset: false, min: -0.5, max: 11.5, grid: { display: false, drawTicks: false, offset: false },
          afterBuildTicks: (s: any) => { s.ticks = monthTicks.map((value) => ({ value })); },
          ticks: { autoSkip: false, maxRotation: 0, padding: 6, color: "#111", font: { family: SANS, size: 20.5 },
            callback: (v: number) => months[v] },
        }),
        y: fixedAxis({
          type: "linear", min: 0, max: 2.5, grid: { display: false, drawTicks: false },
          afterBuildTicks: (s: any) => { s.ticks = varianceTicks.map((value) => ({ value })); },
          ticks: { autoSkip: false, padding: 10, color: "#111", font: { family: SANS, size: 20 }, callback: (v: number) => String(v) },
        }),
      },
    },
    plugins: [framePlugin, boxLegendPlugin],
  };
}

const canvasStyle: React.CSSProperties = { position: "absolute", left: 0, top: 0 };

function Panel({ make }: { make: () => any }) {
  const ref = useRef<HTMLCanvasElement>(null);
  useEffect(() => {
    const chart = new Chart(ref.current!, make());
    return () => chart.destroy();
  }, [make]);
  return <canvas ref={ref} width={W} height={H} style={canvasStyle} />;
}

const titleStyle = (cx: number, cy: number, size: number, sx: number, rot = 0): React.CSSProperties => ({
  position: "absolute",
  left: cx,
  top: cy,
  transform: `translate(-50%, -50%) rotate(${rot}deg) scaleX(${sx})`,
  fontFamily: SERIF,
  fontSize: size,
  whiteSpace: "nowrap",
  color: "#111",
});

export default function App() {
  return (
    <div style={{ position: "fixed", left: 0, top: 0, width: W, height: H, overflow: "hidden", background: "#fff" }}>
      <Panel make={mapConfig} />
      <Panel make={colorbarConfig} />
      <Panel make={coeffConfig} />
      <Panel make={varianceConfig} />
      <div style={titleStyle(316, 25, 22, 1.137)}><b>(a)</b> Atlantic Meridional Mode (AMM)</div>
      <div style={titleStyle(1029, 25, 22, 1.107)}><b>(b)</b> Expansion Coefficients: [66%, 0.72]</div>
      <div style={titleStyle(1031, 298, 22, 1.22)}><b>(c)</b> Monthly Variance</div>
      <div style={titleStyle(688, 414, 22, 1.2, -90)}>Variance</div>
      <div style={{ ...titleStyle(672, 277, 20, 1, -90), fontStyle: "italic" }}>°C</div>
    </div>
  );
}
